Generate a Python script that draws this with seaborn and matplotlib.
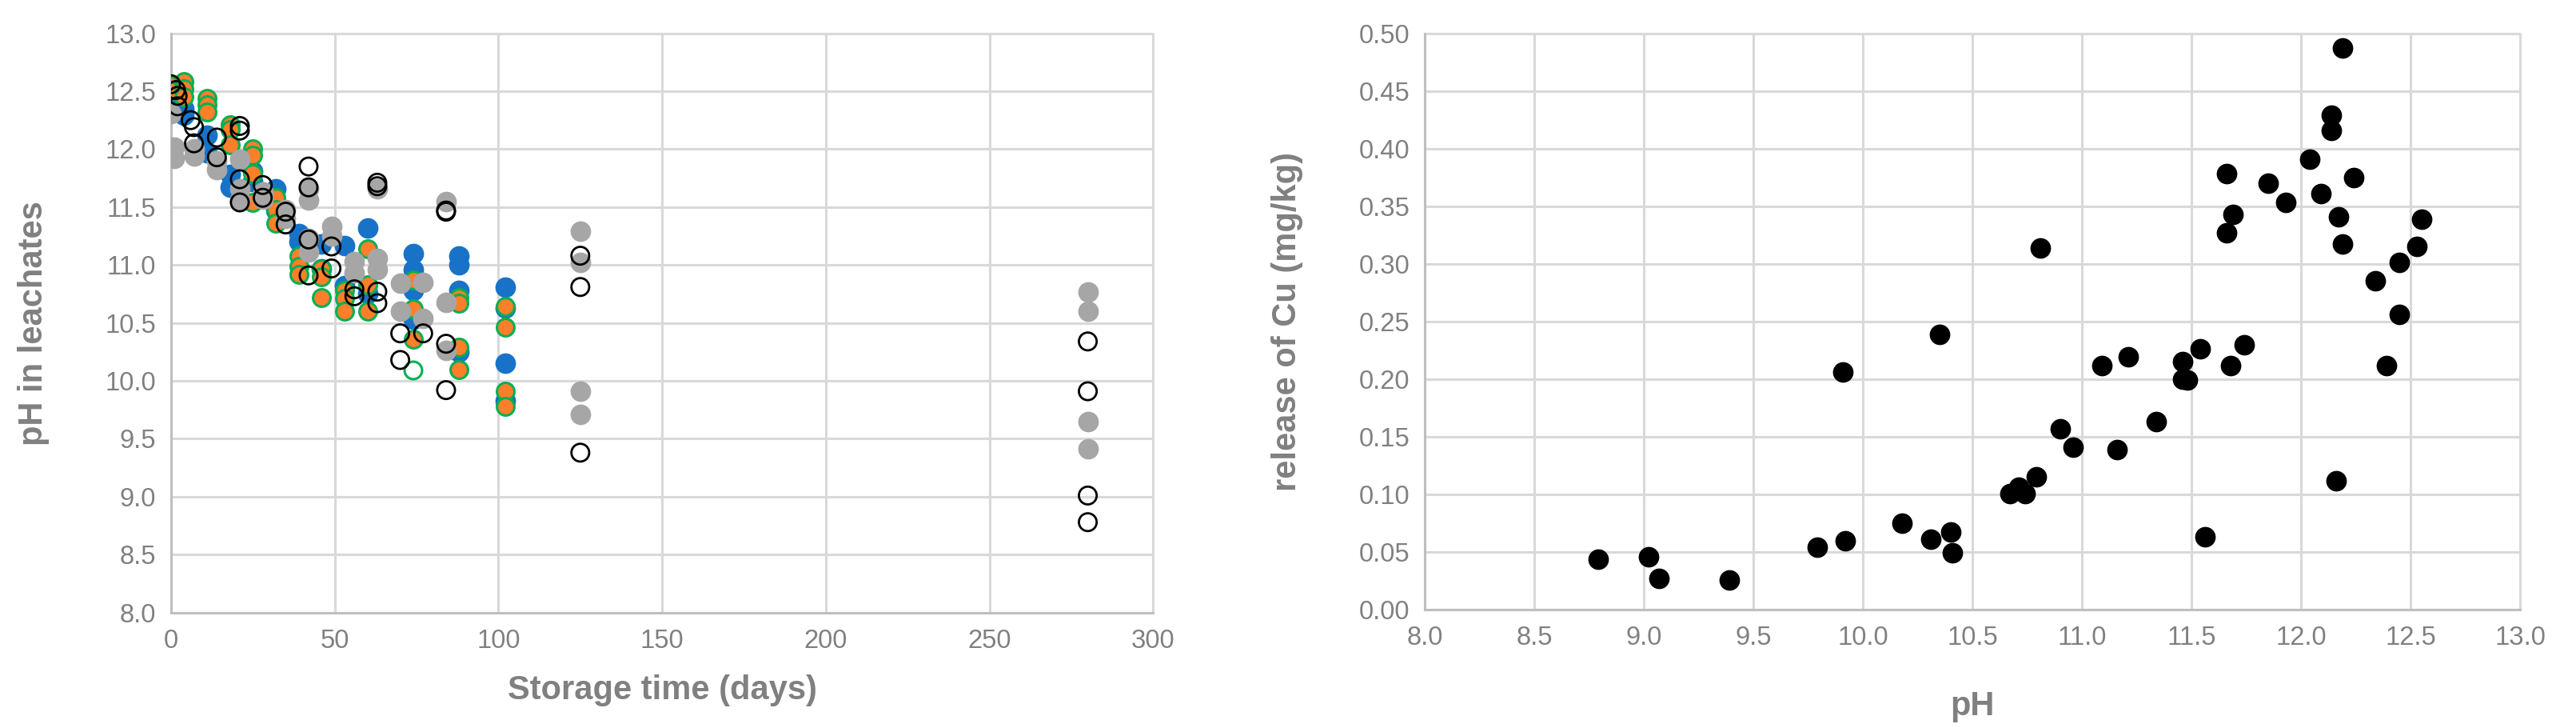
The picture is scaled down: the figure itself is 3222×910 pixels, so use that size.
import pandas as pd
import matplotlib.pyplot as plt
import seaborn as sns

# Left panel: pH in leachates vs storage time, four mixes
blue_days = [0, 0, 4, 4, 11, 11, 18, 18, 25, 25, 32, 32, 39, 39, 46, 46, 53, 53, 60, 60,
             74, 74, 74, 74, 88, 88, 88, 88, 102, 102, 102, 102]
blue_ph = [12.46, 12.40, 12.35, 12.29, 12.12, 11.97, 11.78, 11.67, 11.81, 11.72, 11.66, 11.47,
           11.27, 11.20, 11.18, 10.97, 11.17, 10.82, 11.32, 10.75, 11.10, 10.96, 10.78, 10.53,
           11.08, 11.00, 10.78, 10.25, 10.81, 10.63, 10.15, 9.83]

orange_days = [0, 0, 4, 4, 4, 11, 11, 11, 18, 18, 18, 25, 25, 25, 25, 32, 32, 32, 39, 39, 39,
               46, 46, 46, 53, 53, 53, 60, 60, 60, 74, 74, 74, 88, 88, 88, 88, 102, 102, 102, 102]
orange_ph = [12.55, 12.50, 12.58, 12.52, 12.45, 12.44, 12.38, 12.32, 12.21, 12.17, 12.04,
             12.00, 11.95, 11.79, 11.54, 11.58, 11.48, 11.36, 11.08, 10.99, 10.92, 10.97, 10.90,
             10.72, 10.78, 10.71, 10.60, 11.14, 10.83, 10.60, 10.87, 10.62, 10.36, 10.72, 10.67,
             10.29, 10.10, 10.64, 10.46, 9.91, 9.78]

green_days = [74]
green_ph = [10.09]

gray_days = [0, 1, 1, 7, 7, 14, 14, 21, 21, 21, 28, 28, 35, 35, 42, 42, 42, 42, 49, 49, 56, 56,
             63, 63, 63, 70, 70, 77, 77, 84, 84, 84, 125, 125, 125, 125, 280, 280, 280, 280]
gray_ph = [12.31, 12.02, 11.92, 12.00, 11.94, 11.90, 11.82, 11.91, 11.66, 11.56, 11.63, 11.57,
           11.48, 11.40, 11.66, 11.56, 11.23, 11.11, 11.33, 11.25, 11.03, 10.93, 11.66, 11.06,
           10.96, 10.84, 10.60, 10.85, 10.54, 11.55, 10.68, 10.26, 11.29, 11.02, 9.91, 9.71,
           10.77, 10.60, 9.65, 9.41]

black_days = [0, 1.5, 2, 2, 6, 7, 7, 14, 14, 21, 21, 21, 21, 28, 28, 35, 35, 42, 42, 42, 42,
              49, 49, 56, 56, 63, 63, 63, 63, 70, 70, 77, 84, 84, 84, 84, 125, 125, 125,
              280, 280, 280, 280]
black_ph = [12.56, 12.51, 12.46, 12.37, 12.25, 12.19, 12.05, 12.10, 11.93, 12.20, 12.16, 11.74,
            11.54, 11.69, 11.58, 11.46, 11.35, 11.85, 11.67, 11.22, 10.91, 11.16, 10.97, 10.79,
            10.73, 11.71, 11.68, 10.77, 10.67, 10.41, 10.18, 10.41, 11.47, 11.46, 10.32, 9.92,
            11.08, 10.81, 9.38, 10.34, 9.91, 9.01, 8.78]

# Right panel: release of Cu vs pH
cu_ph = [8.79, 9.02, 9.07, 9.39, 9.79, 9.92, 9.91, 10.18, 10.31, 10.40, 10.41, 10.35, 10.67,
         10.71, 10.74, 10.79, 10.81, 10.90, 10.96, 11.09, 11.16, 11.21, 11.34, 11.46, 11.46,
         11.48, 11.54, 11.56, 11.66, 11.69, 11.66, 11.68, 11.74, 11.85, 11.93, 12.04, 12.09,
         12.14, 12.14, 12.19, 12.17, 12.19, 12.16, 12.24, 12.34, 12.39, 12.45, 12.45, 12.53,
         12.55]
cu_release = [0.044, 0.046, 0.027, 0.026, 0.054, 0.060, 0.206, 0.075, 0.061, 0.067, 0.049,
              0.239, 0.101, 0.106, 0.101, 0.115, 0.314, 0.157, 0.141, 0.212, 0.139, 0.219,
              0.163, 0.215, 0.200, 0.199, 0.226, 0.063, 0.378, 0.343, 0.327, 0.212, 0.230,
              0.370, 0.353, 0.391, 0.361, 0.429, 0.416, 0.487, 0.341, 0.317, 0.112, 0.375,
              0.285, 0.212, 0.256, 0.301, 0.315, 0.339]

sns.set_theme(style='whitegrid')
plt.rcParams['font.family'] = ['Liberation Sans', 'DejaVu Sans']

text_gray = '#808080'
grid_gray = '#D9D9D9'
spine_gray = '#BFBFBF'

fig = plt.figure(figsize=(16.11, 4.55), dpi=200)
ax1 = fig.add_axes([0.0664, 0.1586, 0.3813, 0.7957])
ax2 = fig.add_axes([0.5531, 0.1626, 0.4252, 0.7917])

# left chart, drawn in the series order of the original
sns.scatterplot(x=blue_days, y=blue_ph, ax=ax1, color='#1873C8', s=86, linewidth=0, zorder=3)
sns.scatterplot(x=orange_days, y=orange_ph, ax=ax1, color='#FE7F2A', edgecolor='#00B050',
                s=62, linewidth=1.1, zorder=4)
sns.scatterplot(x=green_days, y=green_ph, ax=ax1, color='#00B050', facecolor='none',
                edgecolor='#00B050', s=62, linewidth=1.1, zorder=4)
sns.scatterplot(x=gray_days, y=gray_ph, ax=ax1, color='#A6A6A6', s=86, linewidth=0, zorder=5)
sns.scatterplot(x=black_days, y=black_ph, ax=ax1, color='black', facecolor='none',
                edgecolor='black', s=64, linewidth=1.0, zorder=6)

ax1.set_xlim(0, 300)
ax1.set_ylim(8.0, 13.0)
ax1.set_xticks(range(0, 301, 50))
ax1.set_yticks([8.0 + 0.5 * i for i in range(11)])
ax1.set_yticklabels([f'{8.0 + 0.5 * i:.1f}' for i in range(11)])
ax1.set_xlabel('Storage time (days)', fontsize=15, fontweight='bold', color=text_gray)
ax1.set_ylabel('pH in leachates', fontsize=15, fontweight='bold', color=text_gray)
ax1.xaxis.set_label_coords(0.5, -0.107)
ax1.yaxis.set_label_coords(-0.124, 0.5)

# right chart
sns.scatterplot(x=cu_ph, y=cu_release, ax=ax2, color='black', s=86, linewidth=0, zorder=3)
ax2.set_xlim(8.0, 13.0)
ax2.set_ylim(0, 0.5)
ax2.set_xticks([8.0 + 0.5 * i for i in range(11)])
ax2.set_xticklabels([f'{8.0 + 0.5 * i:.1f}' for i in range(11)])
ax2.set_yticks([0.05 * i for i in range(11)])
ax2.set_yticklabels([f'{0.05 * i:.2f}' for i in range(11)])
ax2.set_xlabel('pH', fontsize=15, fontweight='bold', color=text_gray)
ax2.set_ylabel('release of Cu (mg/kg)', fontsize=15, fontweight='bold', color=text_gray)
ax2.xaxis.set_label_coords(0.5, -0.14)
ax2.yaxis.set_label_coords(-0.111, 0.5)

for ax in (ax1, ax2):
    ax.set_facecolor('white')
    ax.grid(True, color=grid_gray, linewidth=1.1)
    ax.set_axisbelow(True)
    for side in ('top', 'right'):
        ax.spines[side].set_visible(False)
    for side in ('left', 'bottom'):
        ax.spines[side].set_visible(True)
        ax.spines[side].set_color(spine_gray)
        ax.spines[side].set_linewidth(1.1)
    ax.tick_params(axis='both', length=0, labelsize=11.8, labelcolor=text_gray)
    ax.tick_params(axis='x', pad=7.2)
    ax.tick_params(axis='y', pad=6.8)
    for gl in ax.get_xgridlines() + ax.get_ygridlines():
        gl.set_clip_on(False)

fig.savefig('out.png', dpi=200, facecolor='white')
